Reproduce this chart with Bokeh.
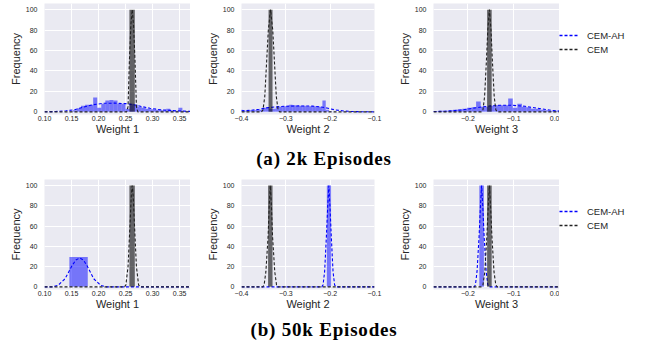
from bokeh.plotting import figure
from bokeh.models import FixedTicker, Range1d, Legend, LegendItem, Div
from bokeh.layouts import column, row
from bokeh.embed import file_html
from bokeh.resources import INLINE

# ---------------- data ----------------
y_ticks = [0, 20, 40, 60, 80, 100]

w1_ticks = [0.10, 0.15, 0.20, 0.25, 0.30, 0.35]
w1_labels = ["0.10", "0.15", "0.20", "0.25", "0.30", "0.35"]
w2_ticks = [-0.4, -0.3, -0.2, -0.1]
w2_labels = ["\u22120.4", "\u22120.3", "\u22120.2", "\u22120.1"]
w3_ticks = [-0.2, -0.1, 0.0]
w3_labels = ["\u22120.2", "\u22120.1", "0.0"]
series_names = ["CEM-AH", "CEM"]

# (a) 2k episodes -- Weight 1
a1_ah_left = [0.145, 0.1525, 0.160, 0.1675, 0.175, 0.1825, 0.190, 0.1975, 0.205, 0.2125,
              0.220, 0.2275, 0.235, 0.2425, 0.250, 0.2575, 0.265, 0.2725, 0.280, 0.2875,
              0.295, 0.3025, 0.310, 0.3175, 0.325, 0.3325, 0.340, 0.3475, 0.355, 0.3625]
a1_ah_height = [0.5, 1.5, 3.5, 6, 7, 7, 14, 4, 8, 11,
                11.5, 11, 8, 8, 3, 8, 7, 5, 4, 3,
                2.5, 2, 2, 1.5, 3, 1.5, 1, 4, 1, 0.5]
a1_ah_width = 0.0075
a1_cem_left = [0.257]
a1_cem_right = [0.267]
a1_cem_height = [100]
a1_ah_kde_x = [0.10, 0.12, 0.14, 0.155, 0.17, 0.19, 0.21, 0.23, 0.25, 0.265, 0.28, 0.295, 0.315, 0.34, 0.37]
a1_ah_kde_y = [0.1, 0.3, 1, 2, 4.3, 7, 8.4, 8.5, 8, 7, 5.2, 3.5, 2, 1.2, 0.4]
a1_cem_kde_x = [0.10, 0.252, 0.2545, 0.257, 0.2597, 0.2622, 0.2647, 0.2674, 0.270, 0.2725, 0.37]
a1_cem_kde_y = [0, 0, 5, 50, 85, 100, 85, 50, 5, 0, 0]

# (a) 2k episodes -- Weight 2
a2_ah_left = [-0.405, -0.3975, -0.390, -0.3825, -0.375, -0.3675, -0.360, -0.3525, -0.345, -0.3375,
              -0.330, -0.3225, -0.315, -0.3075, -0.300, -0.2925, -0.285, -0.2775, -0.270, -0.2625,
              -0.255, -0.2475, -0.240, -0.2325, -0.225, -0.2175, -0.210, -0.2025]
a2_ah_height = [2, 1, 1, 1.5, 1.5, 2, 2, 4, 4.5, 3,
                3, 5, 5, 5.5, 5.5, 7, 6.5, 6, 6, 6,
                5.5, 5.5, 5.5, 5, 5, 11, 2, 0.5]
a2_ah_width = 0.0075
a2_cem_left = [-0.339]
a2_cem_right = [-0.330]
a2_cem_height = [100]
a2_ah_kde_x = [-0.4, -0.38, -0.36, -0.345, -0.325, -0.30, -0.27, -0.24, -0.22, -0.205, -0.19, -0.17, -0.15, -0.12, -0.1]
a2_ah_kde_y = [1, 1.5, 2.5, 3.8, 4.8, 5.5, 5.8, 5.6, 4.8, 3.5, 2, 0.9, 0.3, 0.05, 0]
a2_cem_kde_x = [-0.4, -0.355, -0.3515, -0.3475, -0.3432, -0.3395, -0.3345, -0.3295, -0.3258, -0.3215, -0.3175, -0.314, -0.1]
a2_cem_kde_y = [0, 0, 2, 15, 50, 80, 100, 80, 50, 15, 2, 0, 0]

# (a) 2k episodes -- Weight 3
a3_ah_left = [-0.282, -0.272, -0.262, -0.252, -0.242, -0.232, -0.222, -0.212, -0.202, -0.192,
              -0.182, -0.172, -0.162, -0.152, -0.142, -0.132, -0.122, -0.112, -0.102, -0.092,
              -0.082, -0.072, -0.062, -0.052, -0.042, -0.032, -0.022, -0.012, -0.002]
a3_ah_height = [0.5, 0.5, 1, 1, 1.5, 2, 2.5, 3, 4, 4.5,
                10, 5, 5, 6, 6.5, 6.5, 6.5, 13, 4, 8,
                5, 4.5, 3, 3, 2, 1.5, 1, 1, 0.5]
a3_ah_width = 0.01
a3_cem_left = [-0.158]
a3_cem_right = [-0.148]
a3_cem_height = [100]
a3_ah_kde_x = [-0.275, -0.25, -0.235, -0.21, -0.19, -0.17, -0.15, -0.13, -0.11, -0.09, -0.075, -0.05, -0.03, -0.015, 0.0]
a3_ah_kde_y = [0.3, 0.6, 1, 2, 3.5, 4.8, 5.8, 6.4, 6.5, 6, 5.4, 3.7, 2.3, 1.3, 0.8]
a3_cem_kde_x = [-0.275, -0.17, -0.167, -0.1635, -0.1595, -0.1565, -0.153, -0.1495, -0.1465, -0.1425, -0.139, -0.136, 0.0]
a3_cem_kde_y = [0, 0, 2, 15, 50, 80, 100, 80, 50, 15, 2, 0, 0]

# (b) 50k episodes -- Weight 1
b1_ah_left = [0.146]
b1_ah_right = [0.180]
b1_ah_height = [29.5]
b1_cem_left = [0.257]
b1_cem_right = [0.267]
b1_cem_height = [100]
b1_ah_kde_x = [0.10, 0.115, 0.125, 0.138, 0.151, 0.158, 0.165, 0.172, 0.1785, 0.191, 0.204, 0.215, 0.37]
b1_ah_kde_y = [0, 0, 1.5, 8, 21, 26.5, 28.5, 26.5, 21, 8, 1.5, 0, 0]
b1_cem_kde_x = [0.10, 0.248, 0.2505, 0.2545, 0.258, 0.2605, 0.2622, 0.264, 0.2665, 0.270, 0.274, 0.2765, 0.37]
b1_cem_kde_y = [0, 0, 2, 20, 60, 90, 100, 90, 60, 20, 2, 0, 0]

# (b) 50k episodes -- Weight 2
b2_ah_left = [-0.2075]
b2_ah_right = [-0.198]
b2_ah_height = [100]
b2_cem_left = [-0.340]
b2_cem_right = [-0.330]
b2_cem_height = [100]
b2_ah_kde_x = [-0.4, -0.219, -0.216, -0.2125, -0.2085, -0.2055, -0.203, -0.2005, -0.1975, -0.1935, -0.190, -0.187, -0.1]
b2_ah_kde_y = [0, 0, 2, 15, 50, 80, 100, 80, 50, 15, 2, 0, 0]
b2_cem_kde_x = [-0.4, -0.352, -0.349, -0.345, -0.340, -0.3375, -0.335, -0.3325, -0.330, -0.325, -0.321, -0.318, -0.1]
b2_cem_kde_y = [0, 0, 2, 15, 50, 80, 100, 80, 50, 15, 2, 0, 0]

# (b) 50k episodes -- Weight 3
b3_ah_left = [-0.175]
b3_ah_right = [-0.165]
b3_ah_height = [100]
b3_cem_left = [-0.158]
b3_cem_right = [-0.148]
b3_cem_height = [100]
b3_ah_kde_x = [-0.275, -0.186, -0.1835, -0.180, -0.1755, -0.1725, -0.170, -0.1675, -0.1645, -0.160, -0.1565, -0.154, 0.0]
b3_ah_kde_y = [0, 0, 2, 15, 50, 80, 100, 80, 50, 15, 2, 0, 0]
b3_cem_kde_x = [-0.275, -0.170, -0.167, -0.163, -0.1585, -0.1555, -0.153, -0.1505, -0.1475, -0.143, -0.139, -0.136, 0.0]
b3_cem_kde_y = [0, 0, 2, 15, 50, 80, 100, 80, 50, 15, 2, 0, 0]

# ---------------- style ----------------
BG = "#EAEAF2"
BLUE = "#0000FF"
DARK = "#222222"
TXT = "#262626"
SANS = "Liberation Sans"
DASH = "3 2"
BOTTOM = 21


def panel(x_range, ticks, labels, xlabel, ah_l, ah_r, ah_h, cem_l, cem_r, cem_h,
          ah_kx, ah_ky, cem_kx, cem_ky, w, h, b_left, b_right, b_top):
    p = figure(width=w, height=h,
               x_range=Range1d(*x_range), y_range=Range1d(-2.6, 106),
               output_backend="svg", toolbar_location=None,
               min_border_left=b_left, min_border_right=b_right,
               min_border_top=b_top, min_border_bottom=BOTTOM,
               background_fill_color=BG, border_fill_color="white",
               outline_line_color=None)
    p.quad(left=ah_l, right=ah_r, top=ah_h, bottom=0, fill_color=BLUE,
           fill_alpha=0.5, line_color=None)
    p.line(ah_kx, ah_ky, line_color=BLUE, line_dash=DASH, line_width=1.1)
    p.quad(left=cem_l, right=cem_r, top=cem_h, bottom=0, fill_color="black",
           fill_alpha=0.58, line_color=None)
    p.line(cem_kx, cem_ky, line_color=DARK, line_dash=DASH, line_width=1.1)

    p.xaxis.ticker = FixedTicker(ticks=ticks)
    p.xaxis.major_label_overrides = {t: l for t, l in zip(ticks, labels)}
    p.yaxis.ticker = FixedTicker(ticks=y_ticks)
    p.xaxis.axis_label = xlabel
    p.yaxis.axis_label = "Frequency"
    for ax in (p.xaxis, p.yaxis):
        ax.axis_line_color = None
        ax.major_tick_line_color = None
        ax.minor_tick_line_color = None
        ax.major_tick_out = 0
        ax.major_tick_in = 0
        ax.minor_tick_out = 0
        ax.minor_tick_in = 0
        ax.major_label_text_font = SANS
        ax.major_label_text_font_size = "7px"
        ax.major_label_text_color = TXT
        ax.axis_label_text_font = SANS
        ax.axis_label_text_font_size = "11px"
        ax.axis_label_text_font_style = "normal"
        ax.axis_label_text_color = TXT
    p.xaxis.major_label_standoff = 1
    p.xaxis.axis_label_standoff = -1
    p.yaxis.major_label_standoff = 7
    p.yaxis.axis_label_standoff = 1
    p.grid.grid_line_color = "white"
    p.grid.grid_line_width = 1
    return p


def legend_panel(w, h, top_offset):
    # legend proxies: same curves, drawn outside this panel's visible range
    p = figure(width=w, height=h, x_range=Range1d(0, 1), y_range=Range1d(500, 600),
               output_backend="svg", toolbar_location=None,
               x_axis_location=None, y_axis_location=None,
               min_border=0, outline_line_color=None,
               background_fill_color="white", border_fill_color="white")
    p.grid.visible = False
    r_ah = p.line(a1_ah_kde_x, a1_ah_kde_y, line_color=BLUE, line_alpha=1.0,
                  line_dash=DASH, line_width=1.3)
    r_cem = p.line(a1_cem_kde_x, a1_cem_kde_y, line_color=DARK, line_alpha=1.0,
                   line_dash=DASH, line_width=1.3)
    lg = Legend(items=[LegendItem(label=series_names[0], renderers=[r_ah]),
                       LegendItem(label=series_names[1], renderers=[r_cem])],
                location=(0, h - top_offset - 44), border_line_color=None,
                background_fill_alpha=0, margin=0, padding=8,
                glyph_width=20, glyph_height=14, label_height=14,
                label_standoff=8, spacing=0,
                label_text_font=SANS, label_text_font_size="9.5px",
                label_text_color=TXT)
    p.add_layout(lg, "center")
    return p


def rights(left, w):
    return [l + w for l in left]


H1 = 137   # 3 top + 113 frame + 21 bottom
H2 = 138   # 5 top + 112 frame + 21 bottom
f1 = panel((0.10, 0.37), w1_ticks, w1_labels, "Weight 1",
           a1_ah_left, rights(a1_ah_left, a1_ah_width), a1_ah_height,
           a1_cem_left, a1_cem_right, a1_cem_height,
           a1_ah_kde_x, a1_ah_kde_y, a1_cem_kde_x, a1_cem_kde_y, 190, H1, 44, 0, 3)
f2 = panel((-0.4, -0.1), w2_ticks, w2_labels, "Weight 2",
           a2_ah_left, rights(a2_ah_left, a2_ah_width), a2_ah_height,
           a2_cem_left, a2_cem_right, a2_cem_height,
           a2_ah_kde_x, a2_ah_kde_y, a2_cem_kde_x, a2_cem_kde_y, 192, H1, 51, 8, 3)
f3 = panel((-0.275, 0.0), w3_ticks, w3_labels, "Weight 3",
           a3_ah_left, rights(a3_ah_left, a3_ah_width), a3_ah_height,
           a3_cem_left, a3_cem_right, a3_cem_height,
           a3_ah_kde_x, a3_ah_kde_y, a3_cem_kde_x, a3_cem_kde_y, 177, H1, 51, 0, 3)
l1 = legend_panel(89, H1, 35)

f4 = panel((0.10, 0.37), w1_ticks, w1_labels, "Weight 1",
           b1_ah_left, b1_ah_right, b1_ah_height,
           b1_cem_left, b1_cem_right, b1_cem_height,
           b1_ah_kde_x, b1_ah_kde_y, b1_cem_kde_x, b1_cem_kde_y, 190, H2, 44, 0, 5)
f5 = panel((-0.4, -0.1), w2_ticks, w2_labels, "Weight 2",
           b2_ah_left, b2_ah_right, b2_ah_height,
           b2_cem_left, b2_cem_right, b2_cem_height,
           b2_ah_kde_x, b2_ah_kde_y, b2_cem_kde_x, b2_cem_kde_y, 192, H2, 51, 8, 5)
f6 = panel((-0.275, 0.0), w3_ticks, w3_labels, "Weight 3",
           b3_ah_left, b3_ah_right, b3_ah_height,
           b3_cem_left, b3_cem_right, b3_cem_height,
           b3_ah_kde_x, b3_ah_kde_y, b3_cem_kde_x, b3_cem_kde_y, 177, H2, 51, 0, 5)
l2 = legend_panel(89, H2, 37)


def caption(text, h, pad):
    return Div(text=('<div style="width:632px;text-align:center;font-family:\'Liberation Serif\';'
                     'font-weight:bold;font-size:19px;letter-spacing:0.8px;line-height:19px;'
                     'padding-top:%dpx;padding-left:16px;color:#000">%s</div>' % (pad, text)),
               width=648, height=h, margin=0)


cap_a = caption("(a) 2k Episodes", 37, 12)
cap_b = caption("(b) 50k Episodes", 34, 8)

layout = column(row(f1, f2, f3, l1), cap_a, row(f4, f5, f6, l2), cap_b)

open("out.html", "w").write(file_html(layout, INLINE))
